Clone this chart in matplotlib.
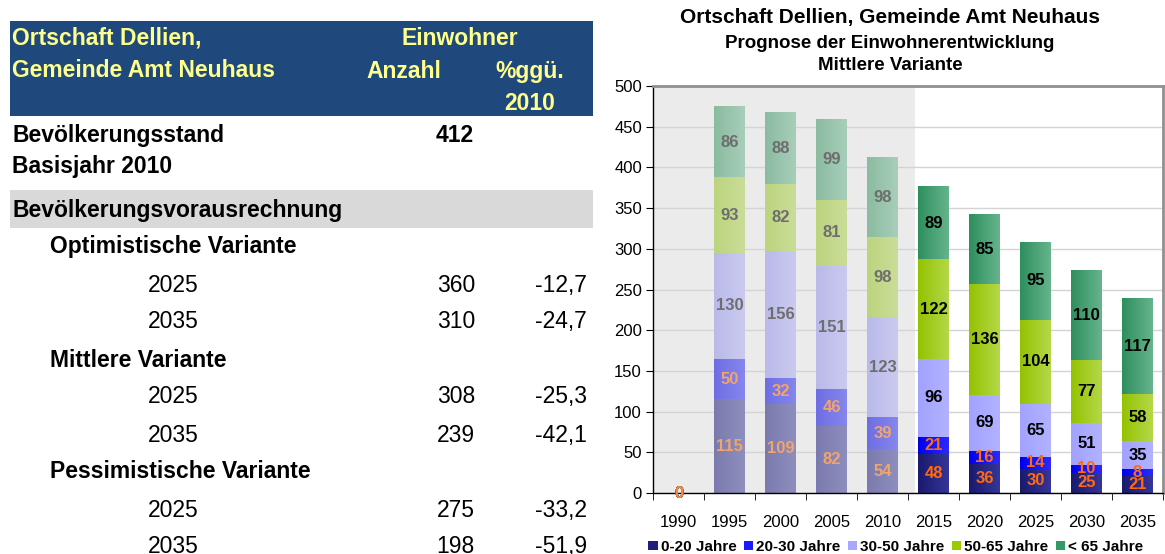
import matplotlib
matplotlib.use('Agg')
import matplotlib.pyplot as plt
import numpy as np
from matplotlib.patches import Rectangle, Patch
from matplotlib.colors import LinearSegmentedColormap

plt.rcParams['font.family'] = ['Liberation Sans', 'DejaVu Sans']

# ---------------- data ----------------
years = ['1990', '1995', '2000', '2005', '2010', '2015', '2020', '2025', '2030', '2035']
age_groups = ['0-20 Jahre', '20-30 Jahre', '30-50 Jahre', '50-65 Jahre', '< 65 Jahre']
v_0_20 = [0, 115, 109, 82, 54, 48, 36, 30, 25, 21]
v_20_30 = [0, 50, 32, 46, 39, 21, 16, 14, 10, 8]
v_30_50 = [0, 130, 156, 151, 123, 96, 69, 65, 51, 35]
v_50_65 = [0, 93, 82, 81, 98, 122, 136, 104, 77, 58]
v_65 = [0, 86, 88, 99, 98, 89, 85, 95, 110, 117]
n_hist = 5  # 1990-2010 are historical values

table_title = ['Ortschaft Dellien,', 'Gemeinde Amt Neuhaus']
base_label = ['Bevölkerungsstand', 'Basisjahr 2010']
base_value = 412
variants = ['Optimistische Variante', 'Mittlere Variante', 'Pessimistische Variante']
var_years = ['2025', '2035']
anzahl = [[360, 310], [308, 239], [275, 198]]
pct = [[-12.7, -24.7], [-25.3, -42.1], [-33.2, -51.9]]

chart_title = ['Ortschaft Dellien, Gemeinde Amt Neuhaus',
               'Prognose der Einwohnerentwicklung', 'Mittlere Variante']

# ---------------- figure ----------------
W, H = 1165, 554
fig = plt.figure(figsize=(W / 100, H / 100), dpi=100)


def fx(px):
    return px / W


def fy(py):
    return 1 - py / H


def ftext(x, y, s, **kw):
    fig.text(fx(x), fy(y), s, **kw)


# ---- table ----
fig.add_artist(Rectangle((fx(10), fy(116)), fx(593) - fx(10), (116 - 21) / H,
                         transform=fig.transFigure, color='#1F497D', lw=0, zorder=0))
fig.add_artist(Rectangle((fx(10), fy(228)), fx(593) - fx(10), (228 - 190) / H,
                         transform=fig.transFigure, color='#D9D9D9', lw=0, zorder=0))

TS = 16.5
yel = '#FFFF8C'
ftext(12, 45, table_title[0], fontsize=TS, weight='bold', color=yel, va='baseline')
ftext(12, 77, table_title[1], fontsize=TS, weight='bold', color=yel, va='baseline')
ftext(460, 45, 'Einwohner', fontsize=TS, weight='bold', color=yel, va='baseline', ha='center')
ftext(404, 78, 'Anzahl', fontsize=TS, weight='bold', color=yel, va='baseline', ha='center')
ftext(530, 78, '%ggü.', fontsize=TS, weight='bold', color=yel, va='baseline', ha='center')
ftext(530, 110, '2010', fontsize=TS, weight='bold', color=yel, va='baseline', ha='center')

ftext(12, 142, base_label[0], fontsize=TS, weight='bold', va='baseline')
ftext(12, 173, base_label[1], fontsize=TS, weight='bold', va='baseline')
ftext(474, 142, str(base_value), fontsize=TS, weight='bold', va='baseline', ha='right')
ftext(12, 217, 'Bevölkerungsvorausrechnung', fontsize=TS, weight='bold', va='baseline')

var_base = [253, 367, 478]
year_base = [[292, 328], [403, 442], [517, 553]]
for i, v in enumerate(variants):
    ftext(50, var_base[i], v, fontsize=TS, weight='bold', va='baseline')
    for j, yr in enumerate(var_years):
        yb = year_base[i][j]
        ftext(148, yb, yr, fontsize=TS, va='baseline')
        ftext(475, yb, str(anzahl[i][j]), fontsize=TS, va='baseline', ha='right')
        ftext(587, yb, f"{pct[i][j]:.1f}".replace('.', ','), fontsize=TS, va='baseline', ha='right')

# ---- chart ----
ftext(890, 18, chart_title[0], fontsize=15, weight='bold', ha='center', va='center')
ftext(890, 44, chart_title[1], fontsize=13.5, weight='bold', ha='center', va='center')
ftext(890, 66, chart_title[2], fontsize=13.5, weight='bold', ha='center', va='center')

ax = fig.add_axes([fx(653), fy(493), 510 / W, 407 / H])
ax.set_xlim(-0.5, 9.5)
ax.set_ylim(0, 500)
ax.axvspan(-0.5, 4.63, color='#EBEBEB', lw=0, zorder=0.1)
ax.set_axisbelow(True)
ax.yaxis.grid(True, color='#D4D4D4', lw=1)

series = [v_0_20, v_20_30, v_30_50, v_50_65, v_65]
proj_grad = [('#1A1A6E', '#35359A'), ('#0000EE', '#2A2AFF'), ('#A2A2FF', '#B2B2FF'),
             ('#94C200', '#B4D848'), ('#2E8F5E', '#66B48C')]
hist_grad = [('#7A7AAE', '#8E8EBE'), ('#6E6EE4', '#8686EE'), ('#BABAEA', '#CACAF0'),
             ('#BCD47E', '#CADD98'), ('#8ABBA0', '#A8CEBA')]
proj_lbl = ['#FF6A10', '#FF6A10', 'black', 'black', 'black']
hist_lbl = ['#F2A46A', '#F2A46A', '#6E6E6E', '#6E6E6E', '#6E6E6E']
legend_cols = ['#1F1F80', '#1A1AFF', '#A8A8FF', '#99CC00', '#339966']

x = np.arange(len(years))
bw = 0.59
bottom = np.zeros(len(years))
grad = np.linspace(0, 1, 64).reshape(1, -1)
for k, vals in enumerate(series):
    vals = np.array(vals, dtype=float)
    cols = [hist_grad[k][0] if i < n_hist else proj_grad[k][0] for i in range(len(years))]
    bars = ax.bar(x, vals, bw, bottom=bottom, color=cols, lw=0, zorder=2)
    for i, p in enumerate(bars.patches):
        if vals[i] <= 0:
            continue
        c0, c1 = hist_grad[k] if i < n_hist else proj_grad[k]
        cmap = LinearSegmentedColormap.from_list('g', [c0, c1])
        x0, y0 = p.get_x(), p.get_y()
        ax.imshow(grad, cmap=cmap, aspect='auto', zorder=2.5, interpolation='bilinear',
                  extent=[x0, x0 + p.get_width(), y0, y0 + p.get_height()])
    for i in range(len(years)):
        if vals[i] == 0:
            col = '#F08A40' if k < 2 else 'black'
        else:
            col = hist_lbl[k] if i < n_hist else proj_lbl[k]
        ax.text(x[i], bottom[i] + vals[i] / 2, str(int(vals[i])), ha='center', va='center',
                fontsize=12, weight='bold', color=col, zorder=4 if k >= 2 else 5,
                clip_on=False)
    bottom += vals

ax.set_xlim(-0.5, 9.5)
ax.set_ylim(0, 500)
ax.set_yticks(np.arange(0, 501, 50))
ax.tick_params(axis='y', labelsize=12, length=5, direction='out', pad=3)
ax.set_xticks(x)
ax.set_xticklabels(years)
ax.set_xticks(np.arange(-0.5, 10, 1), minor=True)
ax.tick_params(axis='x', which='major', length=0, labelsize=12, pad=16)
ax.tick_params(axis='x', which='minor', length=5, direction='out')
for s in ['left', 'bottom']:
    ax.spines[s].set_color('black')
    ax.spines[s].set_linewidth(1)
for s in ['top', 'right']:
    ax.spines[s].set_color('#909090')
    ax.spines[s].set_linewidth(2)

handles = [Patch(facecolor=c, edgecolor='none') for c in legend_cols]
fig.legend(handles, age_groups, loc='center', bbox_to_anchor=(fx(896), fy(547)), ncol=5,
           frameon=False, prop={'weight': 'bold', 'size': 11}, handlelength=0.6,
           handleheight=0.6, handletextpad=0.2, columnspacing=0.5, borderaxespad=0,
           borderpad=0)

fig.savefig('out.png', dpi=100)
